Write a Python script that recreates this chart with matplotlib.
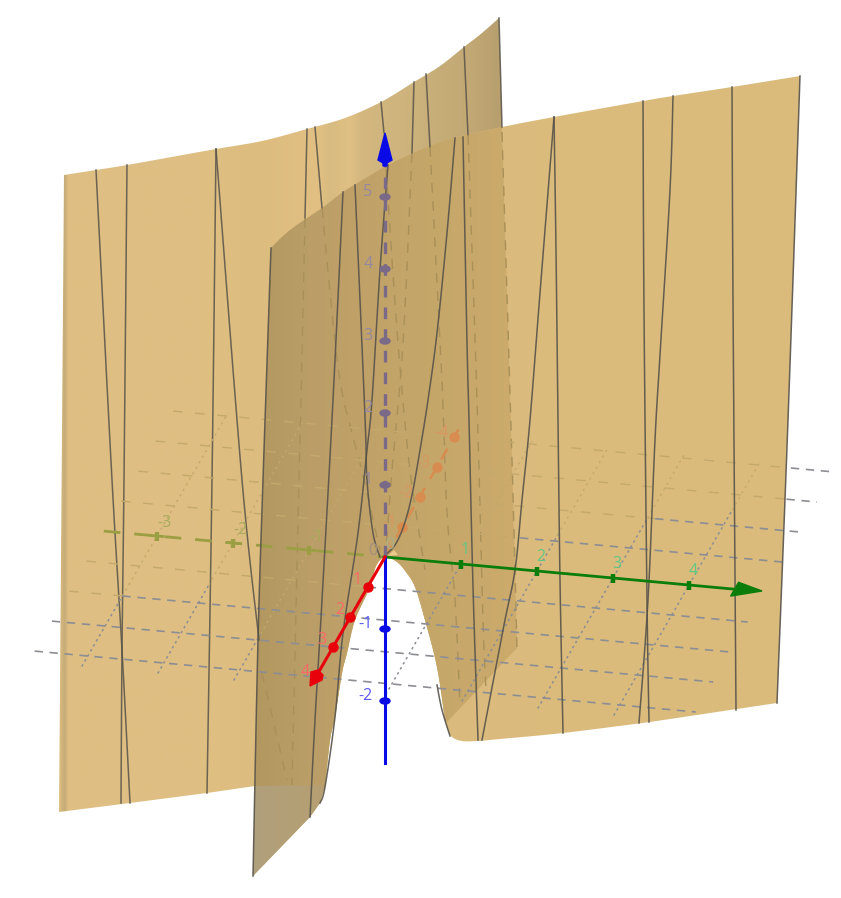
import numpy as np
import matplotlib
matplotlib.use("Agg")
import matplotlib.pyplot as plt
from matplotlib.patches import Polygon, Ellipse
from matplotlib.colors import to_rgb

plt.rcParams['font.family'] = ['Open Sans', 'DejaVu Sans']

# ---- scene outlines (pixel coordinates) ----
back_top = [(64,175),(96,170),(127,165),(216,149),(262,141),(307,129),(345,118),(381,102),(414,82),(440,66),(464,47),(482,33),(499,18)]
back_right = [(502,127),(512,460),(517,648),(447,722)]
back_bottom = [(322,786),(255,786),(207,793),(130,803),(59,812)]
front_top = [(271,248),(290,230),(322,208),(343,192),(366,178),(388,165),(420,150),(453,138),(502,127),(554,117),(643,101),(673,96),(732,87),(800,76)]
front_right = [(788,420),(777,703)]
front_bottom = [(650,722),(563,733),(500,739),(478,741),(462,741),(452,737),(447,728)]
hole_right = [(445,720),(437,667),(425,620),(415,587),(406,572),(397,562),(385,557)]
hole_left = [(376,566),(370,587),(355,620),(347,653),(342,673),(335,717),(330,740),(325,787)]
hole_foot = [(320,803),(310,817)]
front_left = [(253,876),(258,640),(263,480),(271,248)]
origin_mark = [(388,556),(398,555),(394,550)]

contours_front = [
    [(800,76),(788,420),(777,703)],
    [(732,87),(733,300),(736,710)],
    [(673,96),(670,190),(660,355),(655,440),(648,600),(639,723)],
    [(643,101),(644,310),(647,600),(649,722)],
    [(554,117),(556,250),(558,420),(560,580),(563,733)],
    [(554,117),(540,293),(530,420),(522,500),(515,570),(504,625),(482,740)],
    [(463,137),(467,343),(469,420),(473,587),(478,740)],
    [(383,557),(395,545),(404,525),(412,495),(420,450),(428,400),(437,333),(447,233),(455,138)],
    [(355,185),(365,417),(367,480),(373,533),(380,557)],
    [(388,165),(380,270),(372,400),(367,450),(358,533),(343,633),(335,717),(325,787),(320,803)],
    [(343,192),(333,400),(322,600),(315,720),(310,817)],
    [(271,248),(263,480),(258,640),(253,876)],
    [(437,685),(442,710),(450,736)],
]
contours_back = [
    [(96,170),(112,480),(122,650),(130,803)],
    [(127,165),(124,480),(122,650),(121,803)],
    [(216,149),(212,480),(207,793)],
    [(216,149),(242,480),(259,640)],
    [(307,129),(305,218)],
    [(315,127),(322,208)],
    [(381,102),(384,133)],
    [(414,82),(412,153)],
    [(426,74),(430,147)],
    [(464,47),(468,135)],
    [(499,18),(502,127)],
]
contours_hidden = [
    [(305,218),(301,400),(299,480),(292,785)],
    [(322,208),(338,367),(352,433),(360,463),(380,550)],
    [(262,673),(287,780)],
    [(384,133),(392,260),(400,367),(410,470),(425,570)],
    [(412,153),(403,343),(392,470),(386,550)],
    [(430,147),(442,383),(447,513),(455,600),(460,705)],
    [(468,135),(477,400),(483,620),(486,690)],
    [(502,132),(512,460),(517,648)],
]

# ---- grid and axes, in axis units ----
grid_rows = [1, 2, 3, 4, -1, -2, -3, -4]                # y value of each row
row_visible_from = [0.0, -3.0, -3.7, -3.7, 1.55, 3.1, 4.6, 4.43]
grid_cols = [-3, -2, -1, 1, 2, 3, 4]                    # x value of each column
col_visible_to = [2.0, 1.4, 2.8, 0.0, -1.2, -2.0, -2.5]
x_ticks = [1, 2, 3, 4]
x_neg_ticks = [-1, -2, -3]
y_ticks = [1, 2, 3]
y_neg_ticks = [-1, -2, -3, -4]
z_ticks_pos = [1, 2, 3, 4, 5]
z_ticks_neg = [-1, -2]
X_MIN, X_MAX, Y_MIN, Y_MAX = -3.7, 5.0, -4.1, 4.35

ORIGIN = (385.0, 557.0)
def px(x, y=0.0, z=0.0):
    return (ORIGIN[0] + 76*x - 17.3*y, ORIGIN[1] + 7*x + 30*y - 72*z)

def smooth(points, n=10):
    p = np.array(points, dtype=float)
    if len(p) < 3:
        return [tuple(q) for q in p]
    q = np.vstack([p[0], p, p[-1]])
    out = []
    for i in range(1, len(q) - 2):
        for t in np.linspace(0, 1, n, endpoint=False):
            out.append(tuple(0.5*((2*q[i]) + (-q[i-1]+q[i+1])*t + (2*q[i-1]-5*q[i]+4*q[i+1]-q[i+2])*t**2
                                  + (-q[i-1]+3*q[i]-3*q[i+1]+q[i+2])*t**3)))
    out.append(tuple(p[-1]))
    return out

fig = plt.figure(figsize=(8.41, 8.98), dpi=100)
ax = fig.add_axes([0, 0, 1, 1])
ax.axis('off')

def shade(outline, stops, z):
    xs = np.arange(0, 842)
    pos = [s[0] for s in stops]
    rgb = np.array([to_rgb(s[1]) for s in stops])
    row = np.stack([np.interp(xs, pos, rgb[:, i]) for i in range(3)], axis=-1)[None, :, :]
    im = ax.imshow(row, extent=(0, 841, 898, 0), aspect='auto', zorder=z, interpolation='bilinear')
    im.set_clip_path(Polygon(outline, closed=True, transform=ax.transData))

light_stops = [(59,'#DDBD80'),(64,'#C6AC78'),(68,'#DEBE82'),(200,'#DFBF82'),(260,'#DDBC7F'),(318,'#E2C083'),
               (330,'#D8BB80'),(350,'#E0C084'),(362,'#D3B77F'),(400,'#CFB47D'),(440,'#C6AD78'),(470,'#C2A874'),(500,'#B79F6E')]
front_stops = [(270,'#DCBC7E'),(800,'#DABB7C')]
dark_stops = [(253,'#B2975F'),(300,'#B99D67'),(350,'#BFA168'),(440,'#C6A76A'),(517,'#CCAB6C')]
tip_stops = [(253,'#B0A07C'),(325,'#B69F72')]

top_s = smooth(back_top)
ftop_s = smooth(front_top)
hole_s = smooth(hole_right + hole_left)
left_s = smooth(front_left)
back_outline = top_s + back_right + hole_s + back_bottom
shade(back_outline, light_stops, 1)
front_outline = ftop_s + front_right + smooth(front_bottom) + hole_s + hole_foot + left_s
shade(front_outline, front_stops, 2)
ftop_dark = smooth(front_top[:9])
dark_outline = ftop_dark + back_right + hole_s + [(255,786)] + smooth(front_left[1:])
shade(dark_outline, dark_stops, 3)
tip_outline = [(255,786),(325,785)] + hole_foot + [(253,876)]
shade(tip_outline, tip_stops, 3)
ax.add_patch(Polygon(origin_mark, closed=True, color='#EBCB8B', lw=0, zorder=4))
ax.set_xlim(0, 841); ax.set_ylim(898, 0)

def curve(c, **kw):
    a = np.array(smooth(c))
    ax.plot(a[:,0], a[:,1], **kw)

# contours
for c in contours_back:
    curve(c, color='#57534A', lw=1.1, alpha=.85, zorder=4)
for c in contours_hidden:
    curve(c, color='#A89058', lw=1.0, ls=(0,(7,6)), zorder=4)

tan = '#C4A96C'; gray = '#8C8E94'
# rows of the ground grid
for yv, xv in zip(grid_rows, row_visible_from):
    p0, p1, p2 = px(X_MIN, yv), px(xv, yv), px(X_MAX, yv)
    if xv > X_MIN:
        ax.plot([p0[0], p1[0]], [p0[1], p1[1]], color=tan, lw=1.0, ls=(0,(7,9)), zorder=4.2)
    ax.plot([p1[0], p2[0]], [p1[1], p2[1]], color=gray, lw=1.2, ls=(0,(5,4)), zorder=5)
# columns of the ground grid
for xv, yv in zip(grid_cols, col_visible_to):
    p0, p1, p2 = px(xv, Y_MAX), px(xv, yv), px(xv, Y_MIN)
    ax.plot([p0[0], p1[0]], [p0[1], p1[1]], color=gray, lw=1.1, ls=(0,(1.6,2.2)), zorder=5)
    ax.plot([p1[0], p2[0]], [p1[1], p2[1]], color=tan, lw=1.0, ls=(0,(1.6,3.0)), zorder=4.2)

for c in contours_front:
    curve(c, color='#57534A', lw=1.1, alpha=.9, zorder=5.5)

FS = 11.5
# x axis
green = '#0A7D0A'
a, b = px(0), px(4.85)
ax.plot([a[0], b[0]], [a[1], b[1]], color=green, lw=2.0, zorder=6)
ax.add_patch(Polygon([px(4.6,-0.23), px(4.6,0.23), (762,591)], closed=True, color=green, zorder=6))
for t in x_ticks:
    p = px(t)
    ax.plot([p[0], p[0]], [p[1]-4.5, p[1]+4.5], color=green, lw=3.2, zorder=6, solid_capstyle='butt')
    ax.text(p[0]+4, p[1]-14, str(t), color='#62C783', fontsize=FS, ha='center', va='center', zorder=7)
olive = '#9B9E42'
a, b = px(X_MIN), px(0)
ax.plot([a[0], b[0]], [a[1], b[1]], color=olive, lw=2.0, ls=(0,(6,5)), zorder=5)
for t in x_neg_ticks:
    p = px(t)
    ax.plot([p[0], p[0]], [p[1]-4.5, p[1]+4.5], color=olive, lw=3.0, zorder=5, solid_capstyle='butt')
    ax.plot([p[0]-6, p[0]+6], [p[1]-.5, p[1]+.5], color=olive, lw=2.0, zorder=5)
    ax.text(p[0]+8, p[1]-13, str(t), color='#A8AB5C', fontsize=FS, ha='center', va='center', zorder=5)

# y axis
orange = '#D88C50'
a, b = px(0), px(0, -4.5)
ax.plot([a[0], b[0]], [a[1], b[1]], color=orange, lw=1.8, ls=(0,(5,4)), zorder=5)
for t in y_neg_ticks:
    p = px(0, t)
    ax.plot(p[0], p[1], 'o', color=orange, ms=7.5, mec='none', zorder=5)
    ax.text(p[0]-13, p[1]-4, str(t), color='#D8975F', fontsize=FS, ha='center', va='center', zorder=5)
a, b = px(0), px(0, 3.8)
ax.plot([a[0], b[0]], [a[1], b[1]], color='#E8000A', lw=2.2, zorder=7)
for t in y_ticks:
    p = px(0, t)
    ax.plot(p[0], p[1], 'o', color='#E8000A', ms=7.5, mec='none', zorder=7)
    ax.text(p[0]-11, p[1]-7, str(t), color='#FF6868', fontsize=FS, ha='center', va='center', zorder=7)
ax.add_patch(Polygon([(310,686),(311,672),(318,670),(323,675),(322,680)], closed=True, color='#E8000A', zorder=7))
ax.text(305, 672, '4', color='#FF6868', fontsize=FS, ha='center', va='center', zorder=7)

# z axis
blue = '#0A0AE6'
purple = '#7A6A88'
a, b = px(0), px(0, 0, -2.86)
ax.plot([a[0], b[0]], [a[1], b[1]], color=blue, lw=2.2, zorder=6.5)
a, b = px(0), px(0, 0, 5.5)
ax.plot([a[0], b[0]], [a[1], b[1]], color=purple, lw=2.4, ls=(0,(3.5,3)), zorder=5.5)
ax.add_patch(Polygon([(385,133),(392,160),(387,163),(387,166),(383,166),(383,163),(378,160)], closed=True, color=blue, zorder=6.5))
for t in z_ticks_pos:
    p = px(0, 0, t)
    ax.add_patch(Ellipse(p, 10, 6, color=purple, zorder=6))
    ax.text(p[0]-17, p[1]-5, str(t), color='#9488A0', fontsize=FS, ha='center', va='center', zorder=6)
for t in z_ticks_neg:
    p = px(0, 0, t)
    ax.add_patch(Ellipse(p, 10, 6, color=blue, zorder=6.5))
    ax.text(p[0]-19, p[1]-5, str(t), color='#5A5AF0', fontsize=FS, ha='center', va='center', zorder=6.5)

ax.text(373, 551, '0', color='#A08F80', fontsize=FS, ha='center', va='center', zorder=6)
ax.text(390, 545, '0', color='#A9B08A', fontsize=FS, ha='center', va='center', zorder=6)

fig.savefig('out.png', dpi=100)
